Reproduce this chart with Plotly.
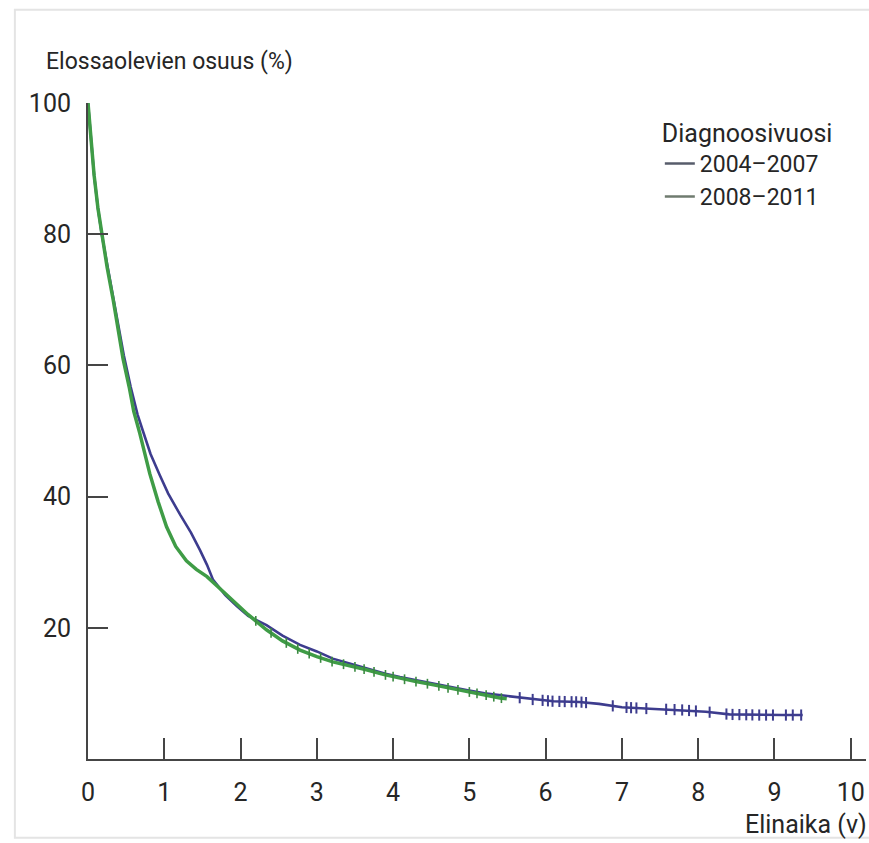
import numpy as np
import plotly.graph_objects as go

# Kaplan-Meier curves
t_0407 = [0, 0.03, 0.08, 0.13, 0.18, 0.25, 0.33, 0.40, 0.47, 0.56, 0.65, 0.72, 0.82, 0.94, 1.05,
          1.21, 1.35, 1.47, 1.56, 1.64, 1.80, 1.95, 2.10, 2.34, 2.55, 2.78, 3.0, 3.21, 3.45, 3.65,
          3.90, 4.09, 4.30, 4.53, 4.75, 4.96, 5.20, 5.57, 5.80, 6.10, 6.44, 6.70, 7.0, 7.30, 7.76,
          8.10, 8.41, 8.80, 9.10, 9.37]
s_0407 = [100, 96, 89, 84, 80, 75.5, 70.5, 66, 61.5, 56.7, 52.5, 50, 46.5, 43.3, 40.5,
          37.2, 34.5, 31.8, 29.6, 27.3, 25.0, 23.3, 21.8, 20.4, 18.8, 17.4, 16.4, 15.3, 14.5, 13.8,
          13.0, 12.5, 12.0, 11.5, 10.9, 10.5, 10.0, 9.5, 9.1, 8.8, 8.7, 8.4, 7.9, 7.7, 7.5,
          7.2, 6.8, 6.7, 6.7, 6.7]

t_0811 = [0, 0.03, 0.08, 0.13, 0.18, 0.25, 0.33, 0.40, 0.46, 0.54, 0.60, 0.68, 0.75, 0.81, 0.92,
          1.03, 1.15, 1.29, 1.42, 1.56, 1.70, 1.90, 2.10, 2.34, 2.55, 2.78, 3.0, 3.21, 3.45, 3.65,
          3.87, 4.09, 4.30, 4.53, 4.74, 4.96, 5.20, 5.40, 5.49]
s_0811 = [100, 96, 89, 84, 80, 75, 70, 65.5, 61, 56.7, 53, 49.6, 46.3, 43.5, 39.2,
          35.4, 32.4, 30.2, 28.9, 27.8, 26.3, 24.2, 22.0, 19.7, 18.0, 16.6, 15.6, 14.8, 14.2, 13.6,
          12.9, 12.3, 11.8, 11.3, 10.8, 10.3, 9.8, 9.3, 9.2]

# censoring times (tick marks)
cens_0407 = [5.66, 5.83, 5.96, 6.03, 6.09, 6.18, 6.25, 6.34, 6.40, 6.47, 6.53, 6.88, 7.06, 7.12,
             7.19, 7.32, 7.58, 7.69, 7.79, 7.88, 7.97, 8.15, 8.37, 8.45, 8.54, 8.63, 8.71, 8.80,
             8.89, 8.98, 9.15, 9.24, 9.35]
cens_0811 = [2.2, 2.4, 2.6, 2.75, 2.9, 3.05, 3.2, 3.35, 3.5, 3.62, 3.75, 3.9, 4.0, 4.15, 4.3,
             4.45, 4.6, 4.72, 4.85, 5.0, 5.1, 5.22, 5.32, 5.42]

series_names = ["2004–2007", "2008–2011"]
x_ticks = [0, 1, 2, 3, 4, 5, 6, 7, 8, 9, 10]
y_ticks = [20, 40, 60, 80, 100]

FONT = "'Liberation Sans Narrow', Roboto, 'Liberation Sans', sans-serif"
TXT = "#262626"
BLUE = "#3d3c8e"
GREEN = "#3f9c46"

fig = go.Figure()

fig.add_trace(go.Scatter(x=t_0407, y=s_0407, mode="lines", line=dict(color=BLUE, width=2.6),
                         showlegend=False, hoverinfo="skip"))
fig.add_trace(go.Scatter(x=cens_0407, y=np.interp(cens_0407, t_0407, s_0407), mode="markers",
                         marker=dict(symbol="line-ns", size=8, line=dict(color=BLUE, width=2)),
                         showlegend=False, hoverinfo="skip"))
fig.add_trace(go.Scatter(x=t_0811, y=s_0811, mode="lines", line=dict(color=GREEN, width=3.5),
                         showlegend=False, hoverinfo="skip"))
fig.add_trace(go.Scatter(x=cens_0811, y=np.interp(cens_0811, t_0811, s_0811), mode="markers",
                         marker=dict(symbol="line-ns", size=7, line=dict(color="#3a8a40", width=1.6)),
                         showlegend=False, hoverinfo="skip"))

# legend entries
for name, col in zip(series_names, ["#575c6b", "#6f7b6f"]):
    fig.add_trace(go.Scatter(x=[None], y=[None], mode="lines", name=name,
                             line=dict(color=col, width=2.5)))

fig.update_layout(
    width=869, height=843,
    margin=dict(l=88, r=3, t=103, b=84),
    paper_bgcolor="white", plot_bgcolor="white",
    font=dict(family=FONT, color=TXT, size=24),
    showlegend=True,
    legend=dict(
        title=dict(text="Diagnoosivuosi", font=dict(size=25, color=TXT, family=FONT)),
        font=dict(size=23, color=TXT, family=FONT),
        x=0.735, xanchor="left", y=0.99, yanchor="top",
        bgcolor="rgba(0,0,0,0)", itemwidth=30, tracegroupgap=0,
    ),
    xaxis=dict(
        range=[0, 10.2], tickvals=x_ticks, ticktext=[str(v) for v in x_ticks],
        showgrid=False, zeroline=False, showline=True, linecolor="#454545", linewidth=2,
        ticks="inside", ticklen=21, tickwidth=2, tickcolor="#454545",
        tickfont=dict(size=25, family=FONT, color=TXT), ticklabelstandoff=10,
    ),
    yaxis=dict(
        range=[0, 100], tickvals=y_ticks, ticktext=[str(v) for v in y_ticks],
        showgrid=False, zeroline=False, showline=True, linecolor="#454545", linewidth=2,
        ticks="inside", ticklen=20, tickwidth=2, tickcolor="#454545",
        tickfont=dict(size=25, family=FONT, color=TXT), ticklabelstandoff=10,
    ),
    annotations=[
        dict(text="Elossaolevien osuus (%)", xref="paper", yref="paper",
             x=-0.057, y=1.063, xanchor="left", yanchor="middle", showarrow=False,
             font=dict(size=23, family=FONT, color=TXT)),
        dict(text="Elinaika (v)", xref="paper", yref="paper",
             x=1.004, y=-0.1, xanchor="right", yanchor="middle", showarrow=False,
             font=dict(size=25, family=FONT, color=TXT)),
    ],
    shapes=[
        dict(type="rect", xref="paper", yref="paper", x0=-0.094, x1=1.02, y0=-0.12, y1=1.142,
             line=dict(color="#e4e4e4", width=2), layer="below"),
    ],
)

fig.write_html("out.html")
